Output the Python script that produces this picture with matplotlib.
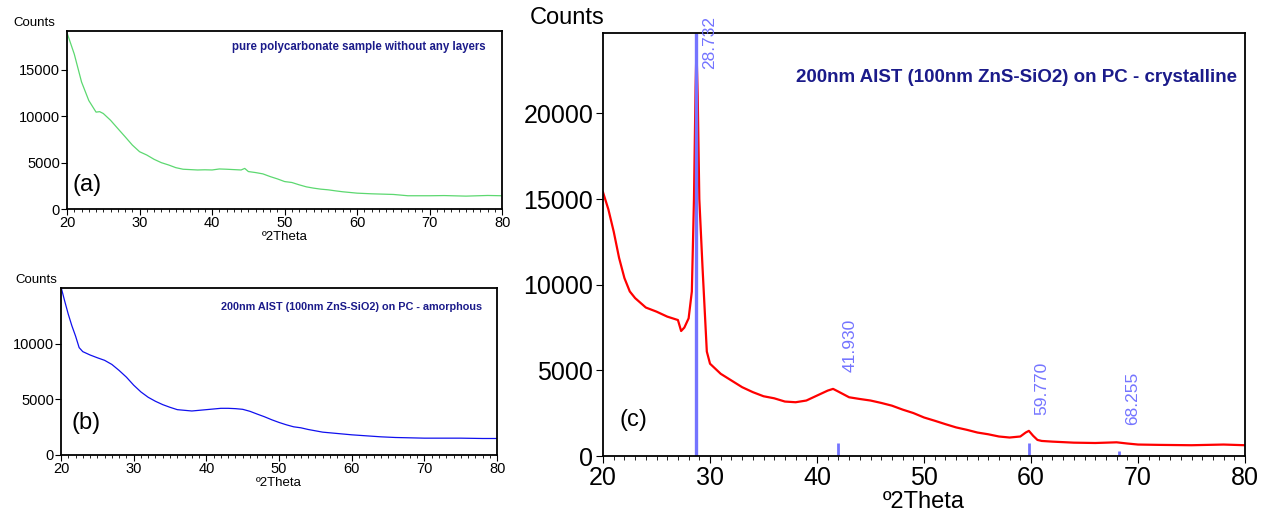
import matplotlib
matplotlib.use("Agg")
import matplotlib.pyplot as plt
import matplotlib.ticker as mticker
import numpy as np

plt.rcParams.update({"font.family": "sans-serif",
                     "font.sans-serif": ["Liberation Sans", "DejaVu Sans"]})

# (a) pure polycarbonate
theta_a = [20, 21, 22, 23, 24, 24.5, 25, 26, 27, 28, 29, 30, 31, 32, 33, 34, 35, 36, 37, 38, 39, 40,
           41, 42, 43, 44, 44.5, 45, 46, 47, 48, 49, 50, 51, 52, 53, 54, 55, 56, 57, 58, 60, 62, 65,
           67, 70, 72, 75, 78, 80]
counts_a = [19000, 16700, 13700, 11700, 10450, 10500, 10300, 9570, 8680, 7800, 6900, 6180, 5820,
            5360, 5000, 4750, 4460, 4290, 4250, 4210, 4230, 4210, 4320, 4290, 4250, 4210, 4380, 4040,
            3930, 3790, 3500, 3250, 2960, 2860, 2610, 2390, 2250, 2140, 2070, 1960, 1860, 1710, 1640,
            1570, 1430, 1430, 1450, 1390, 1460, 1430]

# (b) amorphous AIST
theta_b = [20, 20.5, 21, 21.5, 22, 22.5, 23, 24, 25, 26, 27, 28, 29, 30, 31, 32, 33, 34, 35, 36, 37,
           38, 39, 40, 41, 42, 43, 44, 45, 46, 47, 48, 49, 50, 51, 52, 53, 54, 55, 56, 57, 58, 60,
           62, 64, 66, 68, 70, 75, 78, 80]
counts_b = [15100, 13850, 12650, 11600, 10690, 9640, 9280, 8980, 8730, 8500, 8130, 7590, 6990, 6270,
            5660, 5180, 4820, 4520, 4280, 4070, 4010, 3950, 4010, 4070, 4130, 4190, 4190, 4160,
            4100, 3920, 3670, 3430, 3160, 2920, 2710, 2530, 2440, 2290, 2170, 2050, 1990, 1930,
            1810, 1720, 1630, 1570, 1540, 1510, 1510, 1480, 1480]

# (c) crystalline AIST
theta_c = [20, 20.5, 21, 21.5, 22, 22.5, 23, 24, 25, 26, 27, 27.3, 27.6, 28, 28.3, 28.5, 28.65,
           28.73, 28.85, 29.0, 29.3, 29.7, 30, 31, 32, 33, 34, 35, 36, 37, 38, 39, 40, 41, 41.5,
           42, 43, 44, 45, 46, 47, 48, 49, 50, 51, 52, 53, 54, 55, 56, 57, 58, 59, 59.5, 59.8,
           60.2, 60.6, 61, 62, 64, 66, 68, 69, 70, 72, 75, 78, 80]
counts_c = [15400, 14400, 13100, 11570, 10390, 9610, 9220, 8670, 8430, 8140, 7940, 7300, 7500,
            8040, 9600, 15000, 21500, 23800, 21000, 15000, 11000, 6100, 5390, 4800, 4410, 4020,
            3730, 3490, 3370, 3180, 3140, 3240, 3530, 3820, 3920, 3760, 3430, 3330, 3240, 3100,
            2940, 2710, 2510, 2250, 2060, 1860, 1670, 1530, 1370, 1270, 1140, 1080, 1140, 1370,
            1470, 1180, 940, 880, 840, 780, 760, 800, 730, 670, 650, 630, 670, 630]

# reference pattern sticks
peak_pos = [28.732, 41.930, 59.770, 68.255]
peak_height = [24700, 760, 780, 300]
peak_labels = ["28.732", "41.930", "59.770", "68.255"]
peak_label_y = [22600, 4900, 2390, 1810]

navy = "#1b1b8a"
stick = "#7474ff"

fig = plt.figure(figsize=(12.65, 5.22), dpi=100)
ax_a = fig.add_axes([0.053, 0.5996, 0.344, 0.341])
ax_b = fig.add_axes([0.0482, 0.1284, 0.3448, 0.320])
ax_c = fig.add_axes([0.4767, 0.1264, 0.5075, 0.8104])


def style(ax, ymax, yticks, tsize, lsize, pad):
    ax.set_xlim(20, 80)
    ax.set_ylim(0, ymax)
    ax.set_xticks(range(20, 81, 10))
    ax.set_yticks(yticks)
    ax.xaxis.set_minor_locator(mticker.MultipleLocator(1))
    ax.tick_params(which="major", direction="out", length=4, labelsize=tsize, pad=1)
    ax.tick_params(which="minor", direction="out", length=2.5)
    for s in ax.spines.values():
        s.set_linewidth(1.3)
    ax.set_xlabel("º2Theta", fontsize=lsize, labelpad=pad)


ax_a.plot(theta_a, counts_a, color="#5cd870", lw=0.9)
style(ax_a, 19200, [0, 5000, 10000, 15000], 10.5, 9.5, 0.5)
ax_a.text(-0.028, 1.045, "Counts", transform=ax_a.transAxes, ha="right", va="center", fontsize=9.5)
ax_a.text(0.963, 0.91, "pure polycarbonate sample without any layers", transform=ax_a.transAxes,
          ha="right", va="center", fontsize=8.3, fontweight="bold", color=navy)
ax_a.text(0.012, 0.135, "(a)", transform=ax_a.transAxes, ha="left", va="center", fontsize=17)

ax_b.plot(theta_b, counts_b, color="#1010ee", lw=0.9)
style(ax_b, 15000, [0, 5000, 10000], 10.5, 9.5, 0.5)
ax_b.text(-0.009, 1.048, "Counts", transform=ax_b.transAxes, ha="right", va="center", fontsize=9.5)
ax_b.text(0.966, 0.886, "200nm AIST (100nm ZnS-SiO2) on PC - amorphous", transform=ax_b.transAxes,
          ha="right", va="center", fontsize=7.8, fontweight="bold", color=navy)
ax_b.text(0.025, 0.19, "(b)", transform=ax_b.transAxes, ha="left", va="center", fontsize=17)

ax_c.plot(theta_c, counts_c, color="#ff0000", lw=1.6)
ax_c.vlines(peak_pos, 0, peak_height, color=stick, lw=[2.4, 2, 2, 2])
for x, lab, y in zip(peak_pos, peak_labels, peak_label_y):
    ax_c.text(x + 0.5, y, lab, rotation=90, ha="left", va="bottom", fontsize=12.5,
              color=stick, clip_on=False)
style(ax_c, 24700, [0, 5000, 10000, 15000, 20000], 18, 17, 1)
ax_c.tick_params(which="major", length=5, pad=2)
ax_c.tick_params(which="minor", length=3)
ax_c.text(-0.056, 1.035, "Counts", transform=ax_c.transAxes, ha="center", va="center", fontsize=17)
ax_c.text(0.9875, 0.894, "200nm AIST (100nm ZnS-SiO2) on PC - crystalline", transform=ax_c.transAxes,
          ha="right", va="center", fontsize=13.5, fontweight="bold", color=navy)
ax_c.text(0.026, 0.085, "(c)", transform=ax_c.transAxes, ha="left", va="center", fontsize=17)

fig.savefig("out.png", dpi=100)
